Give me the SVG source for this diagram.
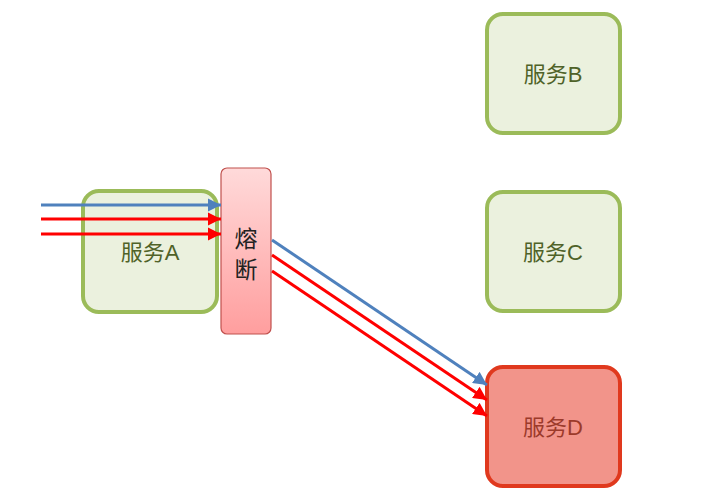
<svg xmlns="http://www.w3.org/2000/svg" width="723" height="498" viewBox="0 0 723 498">
<style>
.svc{fill:#EBF1DE;stroke:#9BBB59;stroke-width:4}
.svcD{fill:#F2948A;stroke:#E0391E;stroke-width:4}
.lbl{font-family:"Liberation Sans","Noto Sans CJK SC",sans-serif;font-size:22px;text-anchor:middle;dominant-baseline:central;fill:#4F6228}
.lblD{fill:#9C3A2A}
.fz{font-family:"Noto Sans CJK SC",sans-serif;font-size:23px;text-anchor:middle;dominant-baseline:central;fill:#222}
.blue{stroke:#4F81BD;stroke-width:3;fill:none;marker-end:url(#mb)}
.red{stroke:#FF0000;stroke-width:3;fill:none;marker-end:url(#mr)}
</style>
<defs>
<linearGradient id="fg" x1="0" y1="0" x2="0" y2="1">
<stop offset="0" stop-color="#FFDADA"/>
<stop offset="1" stop-color="#FF9E9E"/>
</linearGradient>
<marker id="mb" viewBox="0 0 10 10" refX="10" refY="5" markerWidth="4.5" markerHeight="4.5" orient="auto" markerUnits="strokeWidth"><path d="M0,0L10,5L0,10z" fill="#4F81BD"/></marker>
<marker id="mr" viewBox="0 0 10 10" refX="10" refY="5" markerWidth="4.5" markerHeight="4.5" orient="auto" markerUnits="strokeWidth"><path d="M0,0L10,5L0,10z" fill="#FF0000"/></marker>
</defs>
<g id="serviceA"><rect class="svc" x="83" y="191" width="134" height="121" rx="16"/><text class="lbl" x="150" y="252">服务A</text></g>
<g id="serviceB"><rect class="svc" x="487" y="14" width="133" height="119" rx="16"/><text class="lbl" x="553" y="74">服务B</text></g>
<g id="serviceC"><rect class="svc" x="487" y="192" width="133" height="119" rx="16"/><text class="lbl" x="553" y="252">服务C</text></g>
<g id="serviceD"><rect class="svcD" x="487" y="367" width="133" height="119" rx="16"/><text class="lbl lblD" x="553" y="427">服务D</text></g>
<g id="fuse"><rect x="221" y="168" width="50" height="166" rx="6" fill="url(#fg)" stroke="#C0504D" stroke-width="1.2"/><text class="fz" x="246" y="237">熔</text><text class="fz" x="246" y="268">断</text></g>
<g id="connectors">
<line class="blue" x1="41" y1="205" x2="221" y2="205"/>
<line class="red" x1="41" y1="219" x2="221" y2="219"/>
<line class="red" x1="41" y1="234" x2="221" y2="234"/>
<line class="blue" x1="272" y1="240" x2="487" y2="385"/>
<line class="red" x1="272" y1="255" x2="487" y2="400"/>
<line class="red" x1="272" y1="271" x2="487" y2="416"/>
</g>
</svg>
